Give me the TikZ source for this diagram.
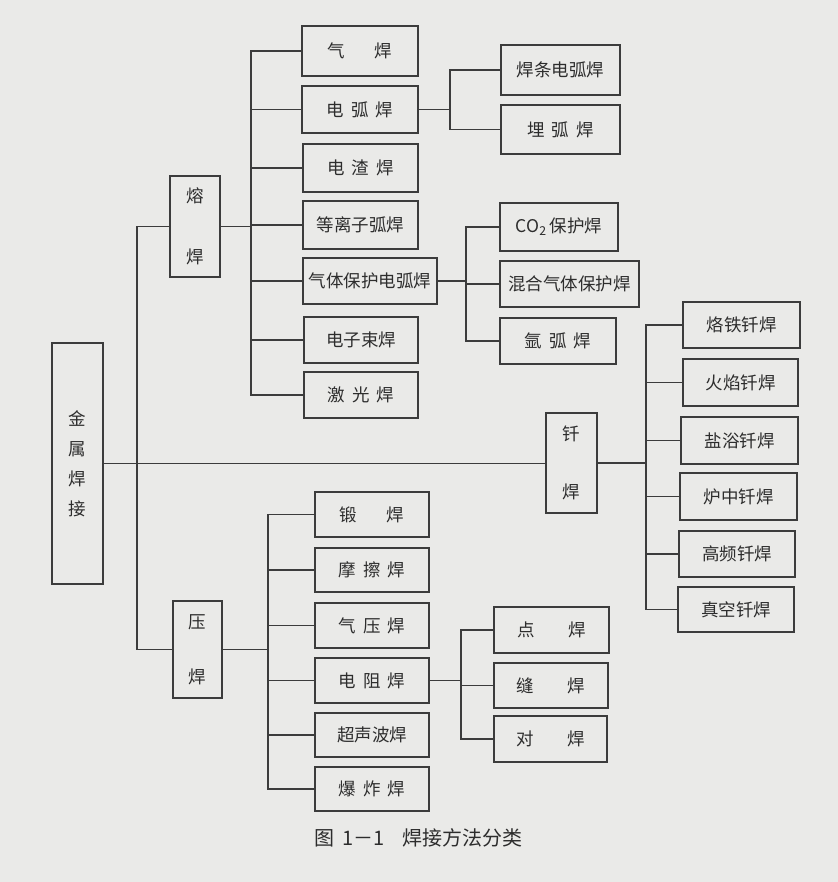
\documentclass[tikz,border=0pt]{standalone}
\usepackage{fontspec}
\newfontfamily\cjk{Noto Sans CJK SC}
\definecolor{paper}{RGB}{234,234,232}
\definecolor{inkc}{RGB}{60,60,60}
\definecolor{textc}{RGB}{45,45,45}
\begin{document}
\begin{tikzpicture}[x=1bp,y=-1bp,
  box/.style={draw=inkc, line width=1.6bp, rectangle, inner sep=0pt, align=center,
    text=textc, font=\cjk\fontsize{17.5bp}{20bp}\selectfont},
  wire/.style={draw=inkc, line width=1.3bp}]
\fill[paper] (0,0) rectangle (838,882);
\useasboundingbox (0,0) rectangle (838,882);

% root and level 1
\node[box, minimum width=51bp, minimum height=241bp] (js) at (77.5,463.5) {金\\[10bp]属\\[10bp]焊\\[10bp]接};
\node[box, minimum width=50bp, minimum height=101bp] (rh) at (195,226.5) {熔\\[41bp]焊};
\node[box, minimum width=49bp, minimum height=97bp] (yh) at (197.5,649.5) {压\\[35bp]焊};
\node[box, minimum width=51bp, minimum height=100bp] (qian) at (571.5,463) {钎\\[38bp]焊};

% fusion welding children
\node[box, minimum width=116bp, minimum height=50bp] (qh) at (360,51) {气\hspace{1.7em}焊};
\node[box, minimum width=116bp, minimum height=47bp] (dh) at (360,109.5) {电\hspace{.4em}弧\hspace{.4em}焊};
\node[box, minimum width=115bp, minimum height=48bp] (dzh) at (360.5,168) {电\hspace{.4em}渣\hspace{.4em}焊};
\node[box, minimum width=115bp, minimum height=48bp] (dlz) at (360.5,225) {等离子弧焊};
\node[box, minimum width=134bp, minimum height=46bp] (qtb) at (370,281) {气体保护电弧焊};
\node[box, minimum width=114bp, minimum height=46bp] (dzs) at (361,340) {电子束焊};
\node[box, minimum width=114bp, minimum height=46bp] (jg) at (361,395) {激\hspace{.4em}光\hspace{.4em}焊};

% arc welding children
\node[box, minimum width=119bp, minimum height=50bp] (htd) at (560.5,70) {焊条电弧焊};
\node[box, minimum width=119bp, minimum height=49bp] (mh) at (560.5,129.5) {埋\hspace{.4em}弧\hspace{.4em}焊};

% gas shielded children
\node[box, minimum width=118bp, minimum height=48bp] (co) at (559,227) {CO\textsubscript{2}\,保护焊};
\node[box, minimum width=139bp, minimum height=46bp] (hh) at (569.5,284) {混合气体保护焊};
\node[box, minimum width=116bp, minimum height=46bp] (yah) at (558,341) {氩\hspace{.4em}弧\hspace{.4em}焊};

% brazing children
\node[box, minimum width=117bp, minimum height=46bp] (lt) at (741.5,325) {烙铁钎焊};
\node[box, minimum width=115bp, minimum height=47bp] (hy) at (740.5,382.5) {火焰钎焊};
\node[box, minimum width=117bp, minimum height=47bp] (yy) at (739.5,440.5) {盐浴钎焊};
\node[box, minimum width=117bp, minimum height=47bp] (lz) at (738.5,496.5) {炉中钎焊};
\node[box, minimum width=116bp, minimum height=46bp] (gp) at (737,554) {高频钎焊};
\node[box, minimum width=116bp, minimum height=45bp] (zk) at (736,609.5) {真空钎焊};

% pressure welding children
\node[box, minimum width=114bp, minimum height=45bp] (duan) at (372,514.5) {锻\hspace{1.7em}焊};
\node[box, minimum width=114bp, minimum height=44bp] (mc) at (372,570) {摩\hspace{.4em}擦\hspace{.4em}焊};
\node[box, minimum width=114bp, minimum height=45bp] (qy) at (372,625.5) {气\hspace{.4em}压\hspace{.4em}焊};
\node[box, minimum width=114bp, minimum height=45bp] (dz) at (372,680.5) {电\hspace{.4em}阻\hspace{.4em}焊};
\node[box, minimum width=114bp, minimum height=44bp] (csb) at (372,735) {超声波焊};
\node[box, minimum width=114bp, minimum height=44bp] (bz) at (372,789) {爆\hspace{.4em}炸\hspace{.4em}焊};

% resistance welding children
\node[box, minimum width=115bp, minimum height=46bp] (dian) at (551.5,630) {点\hspace{1.9em}焊};
\node[box, minimum width=114bp, minimum height=45bp] (feng) at (551,685.5) {缝\hspace{1.9em}焊};
\node[box, minimum width=113bp, minimum height=46bp] (dui) at (550.5,739) {对\hspace{1.9em}焊};

% caption
\node[text=textc, font=\cjk\fontsize{20bp}{22bp}\selectfont, anchor=west, inner sep=0pt] (cap) at (314,838) {图\hspace{.4em}1－1\hspace{.9em}焊接方法分类};

% bus coordinates
\coordinate (b1) at (251,0);
\coordinate (b2) at (137,0);
\coordinate (b3) at (268,0);
\coordinate (b4) at (450,0);
\coordinate (b5) at (466,0);
\coordinate (b6) at (646,0);
\coordinate (b7) at (461,0);

% root connectors
\draw[wire] (js.east) -- (js.east -| qian.west);
\draw[wire] (rh.west) -- (b2 |- rh.west) -- (b2 |- yh.west) -- (yh.west);

% fusion welding
\draw[wire] (rh.east) -- (b1 |- rh.east);
\draw[wire] (qh.west) -- (b1 |- qh.west) -- (b1 |- jg.west) -- (jg.west);
\foreach \n in {dh,dzh,dlz,qtb,dzs} \draw[wire] (\n.west) -- (b1 |- \n.west);

% arc welding
\draw[wire] (dh.east) -- (b4 |- dh.east);
\draw[wire] (htd.west) -- (b4 |- htd.west) -- (b4 |- mh.west) -- (mh.west);

% gas shielded
\draw[wire] (qtb.east) -- (b5 |- qtb.east);
\draw[wire] (co.west) -- (b5 |- co.west) -- (b5 |- yah.west) -- (yah.west);
\draw[wire] (hh.west) -- (b5 |- hh.west);

% brazing
\draw[wire] (qian.east) -- (b6 |- qian.east);
\draw[wire] (lt.west) -- (b6 |- lt.west) -- (b6 |- zk.west) -- (zk.west);
\foreach \n in {hy,yy,lz,gp} \draw[wire] (\n.west) -- (b6 |- \n.west);

% pressure welding
\draw[wire] (yh.east) -- (b3 |- yh.east);
\draw[wire] (duan.west) -- (b3 |- duan.west) -- (b3 |- bz.west) -- (bz.west);
\foreach \n in {mc,qy,dz,csb} \draw[wire] (\n.west) -- (b3 |- \n.west);

% resistance welding
\draw[wire] (dz.east) -- (b7 |- dz.east);
\draw[wire] (dian.west) -- (b7 |- dian.west) -- (b7 |- dui.west) -- (dui.west);
\draw[wire] (feng.west) -- (b7 |- feng.west);
\end{tikzpicture}
\end{document}
